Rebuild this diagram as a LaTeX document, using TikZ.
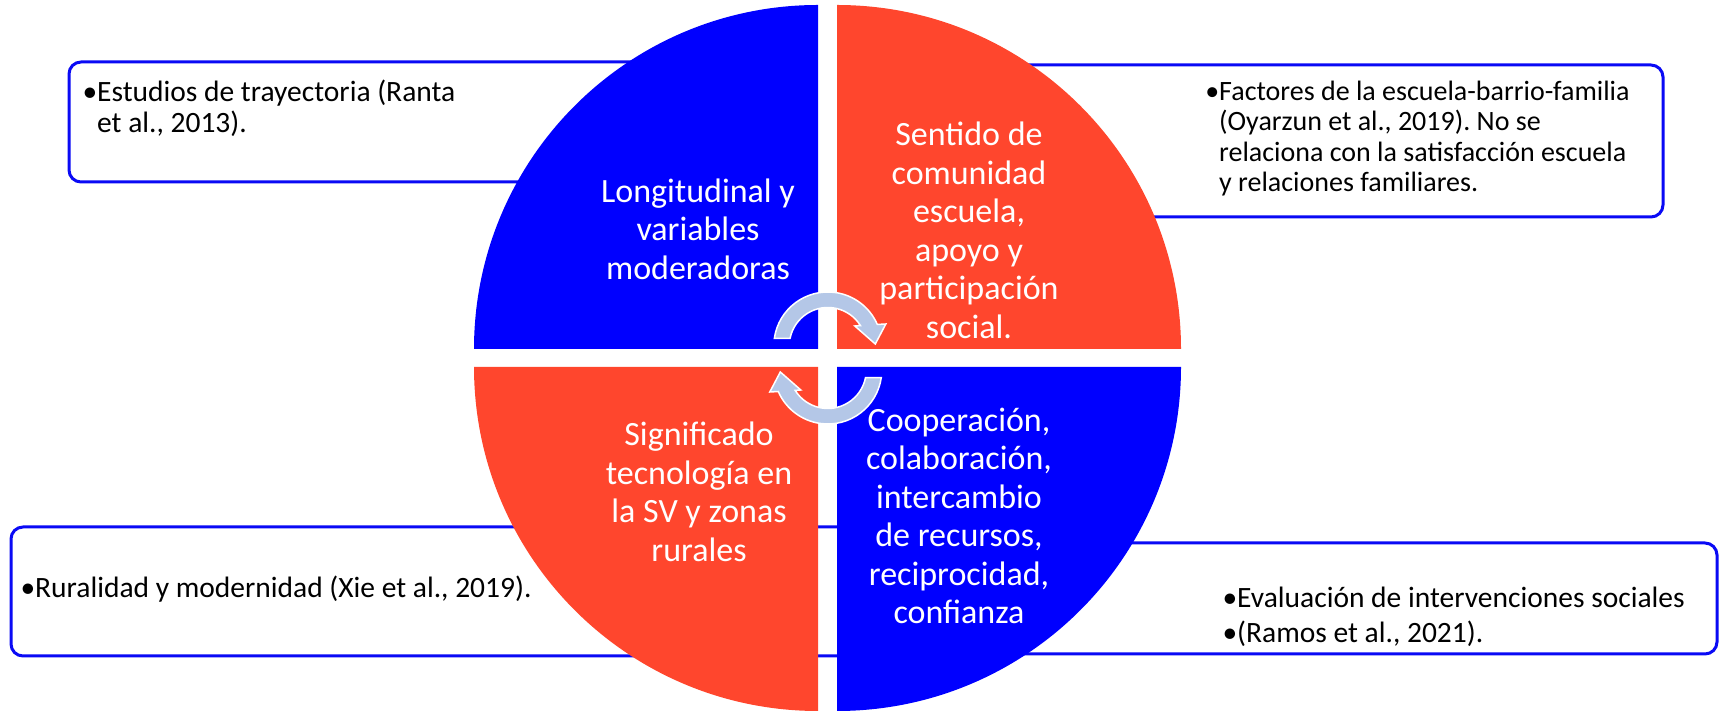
\documentclass[tikz,border=0pt]{standalone}
\usepackage{fontspec}
\setmainfont{Carlito}
\frenchspacing
\definecolor{quadblue}{HTML}{0000FF}
\definecolor{quadred}{HTML}{FF462D}
\definecolor{arrowfill}{HTML}{B4C7E7}
\definecolor{boxline}{HTML}{0A0AF5}
\tikzset{
  infobox/.style={draw=boxline, line width=3pt, fill=white, rounded corners=12pt},
  quadtext/.style={text=white, align=center, inner sep=0pt, font=\fontsize{34}{38.5}\selectfont},
  boxtext/.style={align=left, anchor=west, inner sep=0pt, font=\fontsize{29.5}{31}\selectfont},
  cyclearrow/.style={fill=arrowfill, draw=white, line width=1.5pt}
}
\begin{document}
\begin{tikzpicture}[x=1pt,y=1pt]
    \useasboundingbox (0,0) rectangle (1721,711);

    \draw[infobox] (69,529) rectangle (760,649);
    \draw[infobox] (900,494) rectangle (1663,646);
    \draw[infobox] (11,55) rectangle (920,184);
    \draw[infobox] (900,57) rectangle (1717,168);

    \fill[quadblue] (818,362) -- (474,362) arc[start angle=180,end angle=90,radius=344] -- cycle;
    \fill[quadred] (837,362) -- (837,706) arc[start angle=90,end angle=0,radius=344] -- cycle;
    \fill[quadred] (818,344) -- (474,344) arc[start angle=180,end angle=270,radius=344] -- cycle;
    \fill[quadblue] (837,344) -- (837,0) arc[start angle=270,end angle=360,radius=344] -- cycle;

    \begin{scope}[every node/.style={quadtext}]
        \node (long) at (698,482) {Longitudinal y\\variables\\moderadoras};
        \node (sentido) at (969,480.5) {Sentido de\\comunidad\\escuela,\\apoyo y\\participación\\social.};
        \node (signif) at (699,219) {Significado\\tecnología en\\la SV y zonas\\rurales};
        \node (coop) at (959,195) {Cooperación,\\colaboración,\\intercambio\\de recursos,\\reciprocidad,\\confianza};
    \end{scope}

    \begin{scope}[every node/.style={boxtext}]
        \node (trayect) at (97,602.5) {\llap{•}Estudios de trayectoria (Ranta\\et al., 2013).};
        \node[font=\fontsize{28}{30.5}\selectfont] (factores) at (1219,572.5) {\llap{•}Factores de la escuela-barrio-familia\\(Oyarzun et al., 2019). No se\\relaciona con la satisfacción escuela\\y relaciones familiares.};
        \node (rural) at (35,122) {\llap{•}Ruralidad y modernidad (Xie et al., 2019).};
        \node[font=\fontsize{29.5}{35}\selectfont] (evalua) at (1237,94.5) {\llap{•}Evaluación de intervenciones sociales\\\llap{•}(Ramos et al., 2021).};
    \end{scope}

    \foreach \ang in {0,180}{
        \begin{scope}[shift={(827.8,353)}, rotate=\ang, yshift=12pt]
            \draw[cyclearrow] (168.5:38.5) -- (171.8:54)
                arc[start angle=171.8,end angle=23.5,radius=54]
                -- (58,22) -- (47.5,2) -- (27,20) -- (32:38.5)
                arc[start angle=32,end angle=168.5,radius=38.5] -- cycle;
        \end{scope}
    }
\end{tikzpicture}
\end{document}
